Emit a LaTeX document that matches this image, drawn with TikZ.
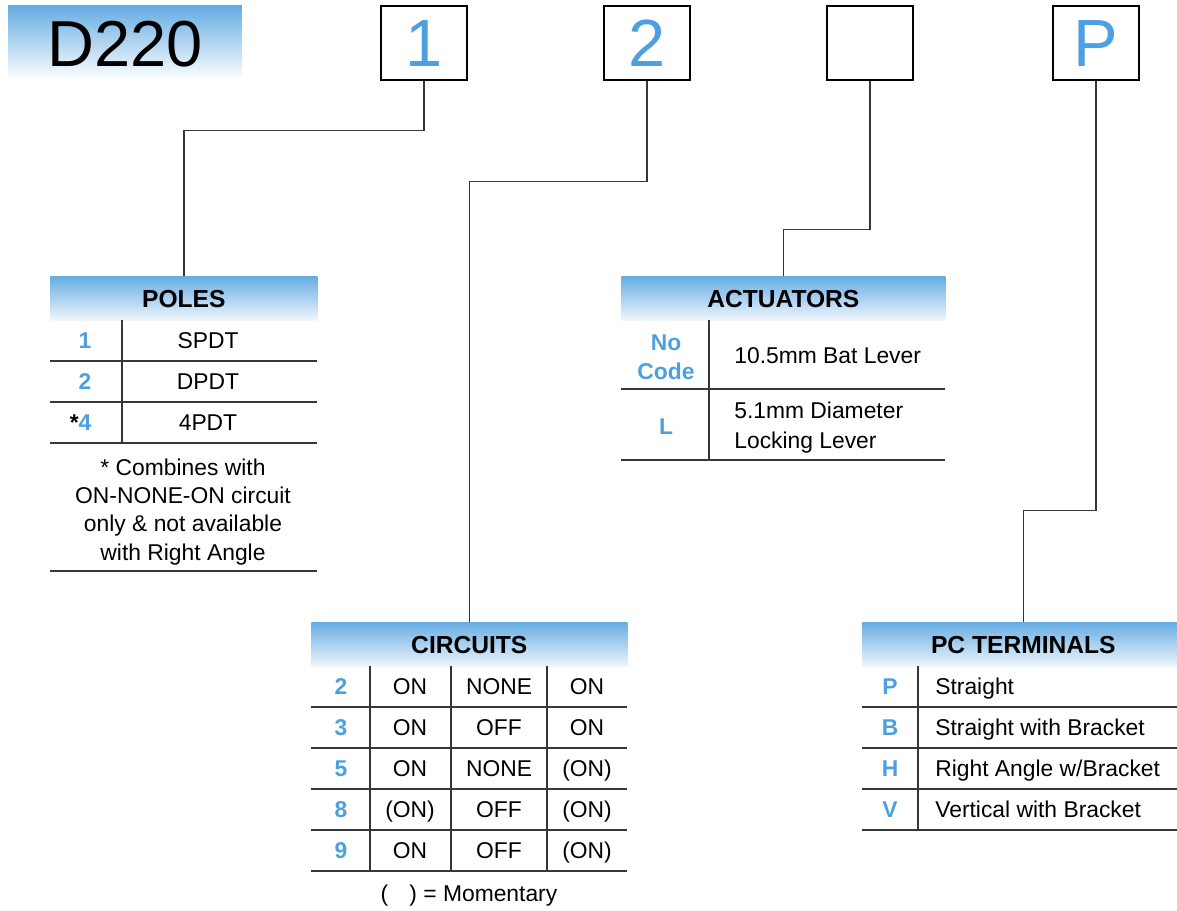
\documentclass[tikz,border=0pt]{standalone}
\usepackage{fontspec}
\setmainfont{Liberation Sans}

\definecolor{codeblue}{RGB}{77,160,224}
\definecolor{hdrtop}{RGB}{102,172,226}
\definecolor{hdrbot}{RGB}{240,246,252}
\definecolor{rulegray}{RGB}{55,55,55}
\newcommand{\bodyfont}{\fontsize{13}{16}\selectfont}

\begin{document}
\begin{tikzpicture}[
    x=0.02cm, y=-0.02cm,
    digitbox/.style={draw=black, line width=1.6pt, minimum width=1.72cm, minimum height=1.48cm,
      inner sep=0pt, text=codeblue, font=\fontsize{38}{40}\selectfont, text height=27pt, text depth=0pt},
    header/.style={anchor=north west, inner sep=0pt, minimum height=0.88cm, top color=hdrtop,
      bottom color=hdrbot, font=\fontsize{14}{16}\selectfont\bfseries, text height=10pt, text depth=0pt},
    code/.style={inner sep=0pt, text=codeblue, font=\bodyfont\bfseries, text height=9.4pt, text depth=0pt},
    cell/.style={inner sep=0pt, font=\bodyfont, text height=9.4pt, text depth=0pt},
    link/.style={rulegray, line width=0.9pt},
    rowrule/.style={rulegray, line width=0.8pt}
  ]
  \useasboundingbox (0,0) rectangle (1177,911);

  % --- Part number ---
  \node[inner sep=0pt, minimum width=4.68cm, minimum height=1.48cm, top color=hdrtop, bottom color=white,
    font=\fontsize{37}{40}\selectfont, text height=26.5pt, text depth=0pt] (series) at (125,43) {D220};
  \node[digitbox] (b1) at (424,43) {1};
  \node[digitbox] (b2) at (647,43) {2};
  \node[digitbox] (b3) at (870,43) {};
  \node[digitbox] (b4) at (1096,43) {P};

  % --- Headers ---
  \node[header, minimum width=5.34cm] (poles) at (50,276) {POLES};
  \node[header, minimum width=6.48cm] (actuators) at (621,276) {ACTUATORS};
  \node[header, minimum width=6.32cm] (circuits) at (311,622) {CIRCUITS};
  \node[header, minimum width=6.44cm] (pcterm) at (862,622) {PC TERMINALS};

  % --- Leaders ---
  \draw[link] (b1.south) -- ++(0,49) -| (poles.north);
  \draw[link] (b2.south) -- ++(0,100) -| (circuits.north);
  \draw[link] (b3.south) -- ++(0,148) -| (actuators.north);
  \draw[link] (b4.south) -- ++(0,429) -| (pcterm.north);

  % --- Poles ---
  \foreach \c/\d [count=\i] in {1/SPDT, 2/DPDT, {\llap{\color{black}*}4}/4PDT} {
    \node[code] (pc\i) at (85,{299.5+41*\i}) {\c};
    \node[cell] (pd\i) at (208,{299.5+41*\i}) {\d};
    \draw[rowrule] (50,{320+41*\i}) -- (317,{320+41*\i});
  }
  \draw[rowrule] (122,320) -- (122,443);
  \node[font=\bodyfont, align=center, inner sep=0pt] (polenote) at (183,512)
    {* Combines with\\ON-NONE-ON circuit\\only \& not available\\with Right Angle};
  \draw[rowrule] (50,571) -- (317,571);

  % --- Actuators ---
  \node[inner sep=0pt, align=center, text=codeblue, font=\bfseries\fontsize{13}{16.5}\selectfont] (ac1) at (666,357) {No\\Code};
  \node[cell, anchor=west] (ad1) at (734,355.5) {10.5mm Bat Lever};
  \node[code] (ac2) at (666,426) {L};
  \node[inner sep=0pt, anchor=west, align=left, font=\fontsize{13}{17}\selectfont] (ad2) at (734,428)
    {5.1mm Diameter\\Locking Lever};
  \draw[rowrule] (709,320) -- (709,460);
  \draw[rowrule] (621,389) -- (945,389);
  \draw[rowrule] (621,460) -- (945,460);

  % --- Circuits ---
  \foreach \n/\a/\b/\c [count=\i] in {2/ON/NONE/ON, 3/ON/OFF/ON, 5/ON/NONE/(ON), 8/(ON)/OFF/(ON), 9/ON/OFF/(ON)} {
    \node[code] (cn\i) at (341,{645.5+41*\i}) {\n};
    \node[cell] (ca\i) at (410,{645.5+41*\i}) {\a};
    \node[cell] (cb\i) at (499,{645.5+41*\i}) {\b};
    \node[cell] (cc\i) at (587,{645.5+41*\i}) {\c};
    \draw[rowrule] (311,{666+41*\i}) -- (627,{666+41*\i});
  }
  \foreach \x in {370,451,547}
    \draw[rowrule] (\x,666) -- (\x,871);
  \node[cell] (momentary) at (469,893) {(\hspace{12pt}) = Momentary};

  % --- PC terminals ---
  \foreach \c/\d [count=\i] in {P/Straight, B/Straight with Bracket, H/{Right Angle w/Bracket}, V/Vertical with Bracket} {
    \node[code] (tc\i) at (890,{645.5+41*\i}) {\c};
    \node[cell, anchor=west] (td\i) at (935,{645.5+41*\i}) {\d};
    \draw[rowrule] (862,{666+41*\i}) -- (1177,{666+41*\i});
  }
  \draw[rowrule] (918,666) -- (918,830);

\end{tikzpicture}
\end{document}
